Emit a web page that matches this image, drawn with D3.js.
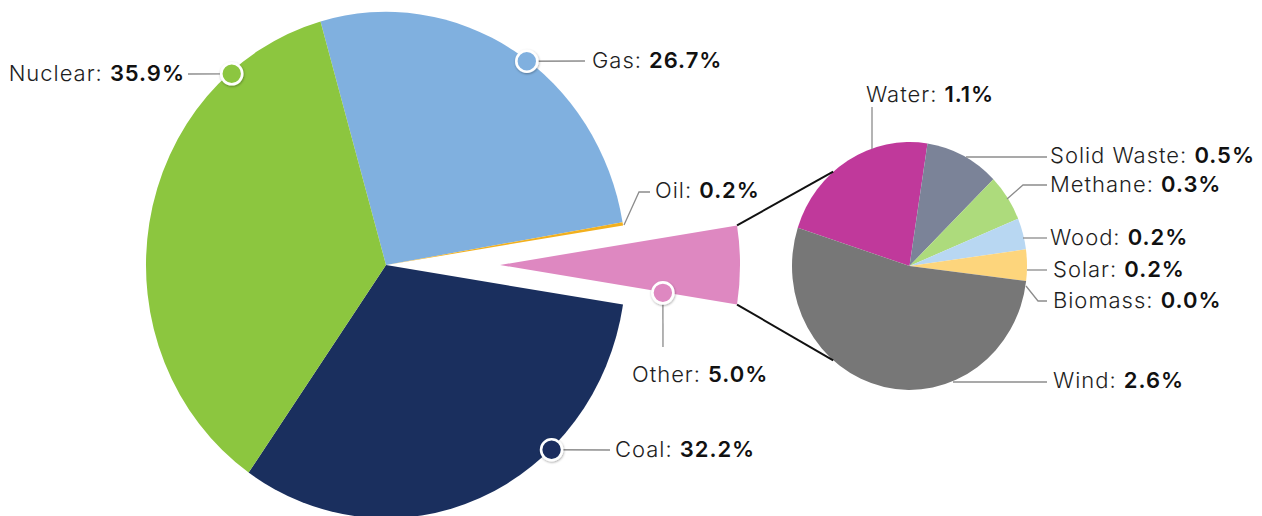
<!DOCTYPE html>
<html><head><meta charset="utf-8">
<script src="https://cdn.jsdelivr.net/npm/d3@7"></script>
<style>
html,body{margin:0;padding:0;background:#fff;}
svg{display:block;}
text{font-family:Inter,Lato,"Open Sans",sans-serif;font-size:22px;fill:#1e1e1e;}
.nm{font-weight:300;}
.vl{font-weight:600;fill:#111;}
</style></head>
<body>
<svg id="c" width="1262" height="516"></svg>
<script>
// ---- data ----
const mainLabels = ["Gas", "Oil", "Other", "Coal", "Nuclear"];
const mainValues = [26.7, 0.2, 5.0, 32.2, 35.9];
const mainColors = ["#80b0df", "#f2b01e", "#de88c1", "#1a2f5e", "#8cc63f"];

const subLabels = ["Water", "Solid Waste", "Methane", "Wood", "Solar", "Biomass", "Wind"];
const subValues = [1.1, 0.5, 0.3, 0.2, 0.2, 0.0, 2.6];
const subColors = ["#c0399b", "#7b8398", "#addb7c", "#b8d7f2", "#fdd57c", "#e8c16a", "#777777"];

// ---- layout ----
const svg = d3.select("#c");
const sy = 1.055;                 // vertical stretch of the picture
const M = {cx: 386, cy: 265, r: 240, explode: 114};
const S = {cx: 909.5, cy: 266, r: 117.5, start: -72};
const deg = Math.PI / 180;

const mainData = mainLabels.map((l, i) => ({label: l, value: mainValues[i], color: mainColors[i]}));
const subData = subLabels.map((l, i) => ({label: l, value: subValues[i], color: subColors[i]}));

// main pie: "Other" centred at 3 o'clock
const total = d3.sum(mainValues);
const oi = mainLabels.indexOf("Other");
const before = d3.sum(mainValues.slice(0, oi)) + mainValues[oi] / 2;
const mStart = Math.PI / 2 - 2 * Math.PI * before / total;
const mainPie = d3.pie().sort(null).value(d => d.value).startAngle(mStart).endAngle(mStart + 2 * Math.PI);
const mArcs = mainPie(mainData);
const mArc = d3.arc().innerRadius(0).outerRadius(M.r);

const gMain = svg.append("g").attr("transform", `translate(${M.cx},${M.cy}) scale(1,${sy})`);
gMain.selectAll("path").data(mArcs).join("path")
  .attr("d", mArc)
  .attr("fill", d => d.data.color)
  .attr("transform", d => {
    if (d.data.label !== "Other") return null;
    const a = (d.startAngle + d.endAngle) / 2;
    return `translate(${M.explode * Math.sin(a)},${-M.explode * Math.cos(a)})`;
  });

// secondary pie
const subPie = d3.pie().sort(null).value(d => d.value).startAngle(S.start * deg).endAngle(S.start * deg + 2 * Math.PI);
const sArcs = subPie(subData);
const sArc = d3.arc().innerRadius(0).outerRadius(S.r);
const gSub = svg.append("g").attr("transform", `translate(${S.cx},${S.cy}) scale(1,${sy})`);
gSub.selectAll("path").data(sArcs).join("path")
  .attr("d", sArc).attr("fill", d => d.data.color);

// connectors from exploded wedge to secondary pie
const other = mArcs[oi];
const oa = (other.startAngle + other.endAngle) / 2;
const ox = M.cx + M.explode * Math.sin(oa), oy = M.cy - M.explode * Math.cos(oa) * sy;
function mPt(a, r) { return [ox + r * Math.sin(a), oy - r * Math.cos(a) * sy]; }
function sPt(a) { return [S.cx + S.r * Math.sin(a), S.cy - S.r * Math.cos(a) * sy]; }
const conn = [
  [mPt(other.startAngle, M.r), sPt(-40.5 * deg)],
  [mPt(other.endAngle, M.r), sPt(220.5 * deg)]
];
svg.selectAll("line.conn").data(conn).join("line").attr("class", "conn")
  .attr("x1", d => d[0][0]).attr("y1", d => d[0][1])
  .attr("x2", d => d[1][0]).attr("y2", d => d[1][1])
  .attr("stroke", "#111").attr("stroke-width", 2);

// ---- annotations ----
const defs = svg.append("defs");
const f = defs.append("filter").attr("id", "sh").attr("x", "-50%").attr("y", "-50%").attr("width", "200%").attr("height", "200%");
f.append("feDropShadow").attr("dx", 0.5).attr("dy", 1).attr("stdDeviation", 1.2).attr("flood-color", "#000").attr("flood-opacity", 0.35);

function mainPoint(label, angDeg, r) {
  if (label === "Other") return mPt(angDeg * deg, r);
  return [M.cx + r * Math.sin(angDeg * deg), M.cy - r * Math.cos(angDeg * deg) * sy];
}
const mainAnn = [
  {label: "Nuclear", ang: -40.4, r: 238, leader: [[188, 74]], tx: 185, ty: 81, anchor: "end"},
  {label: "Gas", ang: 36.1, r: 239, leader: [[585, 61]], tx: 592, ty: 68, anchor: "start"},
  {label: "Coal", ang: 136.6, r: 241, leader: [[610, 450]], tx: 615, ty: 457, anchor: "start"},
  {label: "Other", ang: 99.2, r: 165, leader: [[663, 347]], tx: 632, ty: 382, anchor: "start"},
  {label: "Oil", ang: null, r: 0, leader: [[624, 225], [639, 192], [650, 192]], tx: 655, ty: 198, anchor: "start"}
];
const lineGen = d3.line();
const texts = [];
mainAnn.forEach(a => {
  const idx = mainLabels.indexOf(a.label);
  let pts = a.leader.slice();
  let p = null;
  if (a.ang !== null) { p = mainPoint(a.label, a.ang, a.r); pts = [p].concat(pts); }
  svg.append("path").attr("d", lineGen(pts)).attr("fill", "none").attr("stroke", "#8c8c8c").attr("stroke-width", 1.3);
  if (p) {
    svg.append("circle").attr("cx", p[0]).attr("cy", p[1]).attr("r", 10.5)
      .attr("fill", mainColors[idx]).attr("stroke", "#fff").attr("stroke-width", 2.6).attr("filter", "url(#sh)");
  }
  const t = svg.append("text").attr("x", a.tx).attr("y", a.ty).attr("text-anchor", a.anchor);
  t.append("tspan").attr("class", "nm").text(a.label + ": ");
  t.append("tspan").attr("class", "vl").text(mainValues[idx].toFixed(1) + "%");
  texts.push(t);
});

const subAnn = [
  {label: "Water", leader: [[872, 149], [872, 107]], tx: 866, ty: 102},
  {label: "Solid Waste", leader: [[966, 157], [1047, 157]], tx: 1050, ty: 163},
  {label: "Methane", leader: [[1007, 199], [1023, 185], [1047, 185]], tx: 1050, ty: 192},
  {label: "Wood", leader: [[1023, 238], [1047, 238]], tx: 1050, ty: 245},
  {label: "Solar", leader: [[1027, 270], [1047, 270]], tx: 1053, ty: 277},
  {label: "Biomass", leader: [[1026, 286], [1038, 301], [1047, 301]], tx: 1053, ty: 308},
  {label: "Wind", leader: [[953, 382], [1047, 382]], tx: 1053, ty: 388}
];
let swText = null;
subAnn.forEach(a => {
  const idx = subLabels.indexOf(a.label);
  svg.append("path").attr("d", lineGen(a.leader)).attr("fill", "none").attr("stroke", "#8c8c8c").attr("stroke-width", 1.3);
  const t = svg.append("text").attr("x", a.tx).attr("y", a.ty);
  t.append("tspan").attr("class", "nm").text(a.label + ": ");
  t.append("tspan").attr("class", "vl").text(subValues[idx].toFixed(1) + "%");
  texts.push(t);
  if (a.label === "Solid Waste") swText = t;
});
// widen tracking so the wide geometric labels span the same width as the original
const w = swText.node().getComputedTextLength();
const n = swText.text().length;
const ls = Math.max(0, (205 - w) / n);
texts.forEach(t => t.style("letter-spacing", ls + "px"));
</script>
</body></html>
